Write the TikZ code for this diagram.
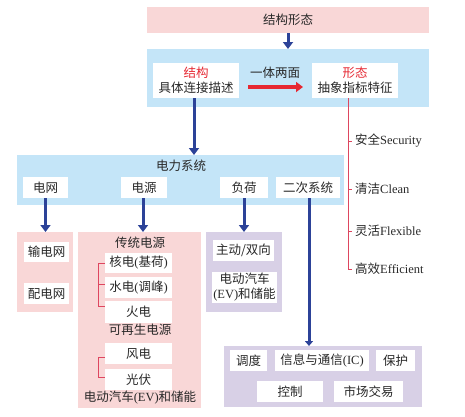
\documentclass[tikz,border=0pt]{standalone}
\usepackage{fontspec}
\setmainfont{Noto Sans CJK SC}
\newfontfamily\lat{Liberation Serif}
\usetikzlibrary{arrows.meta,calc}
\definecolor{pk}{RGB}{249,215,215}
\definecolor{bl}{RGB}{196,229,248}
\definecolor{pu}{RGB}{216,208,230}
\definecolor{db}{RGB}{44,66,152}
\definecolor{rd}{RGB}{230,40,50}
\definecolor{rl}{RGB}{222,70,95}
\definecolor{tx}{RGB}{40,40,40}
\begin{document}
\begin{tikzpicture}[x=1pt,y=-1pt,
  font=\fontsize{12.5}{15}\selectfont,
  every node/.style={text=tx},
  panel/.style={inner sep=0pt, outer sep=0pt},
  wbox/.style={fill=white, inner sep=0pt, outer sep=0pt, align=center, minimum height=21},
  lbl/.style={inner sep=0pt, align=center},
  barrow/.style={draw=db, line width=3pt, -{Triangle[width=10pt,length=7pt]}},
  rarrow/.style={draw=rd, line width=4pt, -{Triangle[width=10pt,length=7pt]}},
  rline/.style={draw=rl, line width=0.8pt}]
\useasboundingbox (0,0) rectangle (465,416);

% top
\node[panel, fill=pk, minimum width=282, minimum height=26] (top) at (288,20) {结构形态};
\node[panel, fill=bl, minimum width=282, minimum height=58] (blue1) at (288,78) {};
\node[wbox, minimum width=86, minimum height=35] (jg) at (196,80.5) {\textcolor{rd}{结构}\\具体连接描述};
\node[wbox, minimum width=86, minimum height=35] (xt) at (355,80.5) {\textcolor{rd}{形态}\\抽象指标特征};
\node[lbl] (yt) at (275,73) {一体两面};
\draw[rarrow] ([xshift=9]jg.east |- 0,87) -- ([xshift=-9]xt.west |- 0,87);
\draw[barrow] (top.south) -- (blue1.north);

% power system
\node[panel, fill=bl, minimum width=327, minimum height=50] (ps) at (180.5,180) {};
\node[lbl] (pst) at (181,166) {电力系统};
\node[wbox, minimum width=45] (dw) at (45.5,187.5) {电网};
\node[wbox, minimum width=46] (dy) at (144,187.5) {电源};
\node[wbox, minimum width=48] (fh) at (244,187.5) {负荷};
\node[wbox, minimum width=64] (ec) at (308,187.5) {二次系统};
\draw[barrow] ([xshift=-2]jg.south) -- ([xshift=-2]jg.south |- ps.north);

% grid
\node[panel, fill=pk, minimum width=56, minimum height=80] (pa) at (45,272) {};
\node[wbox, minimum width=45, minimum height=20] (sdw) at (46.5,252) {输电网};
\node[wbox, minimum width=45] (pdw) at (46.5,293.5) {配电网};
\draw[barrow] (dw.south) -- (dw.south |- pa.north);

% source
\node[panel, fill=pk, minimum width=123, minimum height=176] (pb) at (139.5,320) {};
\node[lbl] (ct) at (140,243) {传统电源};
\node[wbox, minimum width=67, minimum height=20] (nh) at (138.5,263) {核电{\lat(}基荷{\lat)}};
\node[wbox, minimum width=67] (sd) at (138.5,287.5) {水电{\lat(}调峰{\lat)}};
\node[wbox, minimum width=67, minimum height=22] (hd) at (138.5,312) {火电};
\node[lbl] (kz) at (140,330) {可再生电源};
\node[wbox, minimum width=67] (fd) at (138.5,353.5) {风电};
\node[wbox, minimum width=67] (gf) at (138.5,379.5) {光伏};
\node[lbl] (ev1) at (140,398) {电动汽车{\lat(EV)}和储能};
\draw[barrow] ([xshift=-1]dy.south) -- ([xshift=-1]dy.south |- pb.north);
\draw[rline] (nh.west) -- ++(-7,0) |- ([yshift=-5]hd.north west);
\draw[rline] ([yshift=3]sd.west) -- ++(-7,0);
\draw[rline] ([yshift=-3.5]fd.west) -- ++(-7,0) |- ([yshift=2.5]gf.west);

% load
\node[panel, fill=pu, minimum width=76, minimum height=80] (pc) at (244,272) {};
\node[wbox, minimum width=61] (zd) at (243.5,250.5) {主动/双向};
\node[wbox, minimum width=65, minimum height=31] (ev2) at (244.5,287.5) {电动汽车\\{\lat(EV)}和储能};
\draw[barrow] (fh.south) -- (fh.south |- pc.north);

% secondary
\node[panel, fill=pu, minimum width=198, minimum height=61] (pd) at (323,376.5) {};
\node[wbox, minimum width=37] (dd) at (248.5,360.5) {调度};
\node[wbox, minimum width=94] (ic) at (322,360.5) {信息与通信{\lat(IC)}};
\node[wbox, minimum width=39] (bh) at (395.5,360.5) {保护};
\node[wbox, minimum width=66] (kzh) at (290,391.5) {控制};
\node[wbox, minimum width=69] (sc) at (368.5,391.5) {市场交易};
\draw[draw=db, line width=3pt, -{Triangle[width=8pt,length=5pt]}] ([xshift=1]ec.south) -- ([xshift=1]ec.south |- pd.north);

% features
\node[lbl, anchor=west] (s1) at (355,141) {安全{\lat Security}};
\node[lbl, anchor=west] (s2) at (355,189) {清洁{\lat Clean}};
\node[lbl, anchor=west] (s3) at (355,231) {灵活{\lat Flexible}};
\node[lbl, anchor=west] (s4) at (355,269) {高效{\lat Efficient}};
\coordinate (rt) at ([xshift=-7]xt.south);
\draw[rline] (rt) |- ([xshift=-3]s4.west);
\draw[rline] (rt |- s1.west) -- ([xshift=-3]s1.west);
\draw[rline] (rt |- s2.west) -- ([xshift=-3]s2.west);
\draw[rline] (rt |- s3.west) -- ([xshift=-3]s3.west);
\end{tikzpicture}
\end{document}
